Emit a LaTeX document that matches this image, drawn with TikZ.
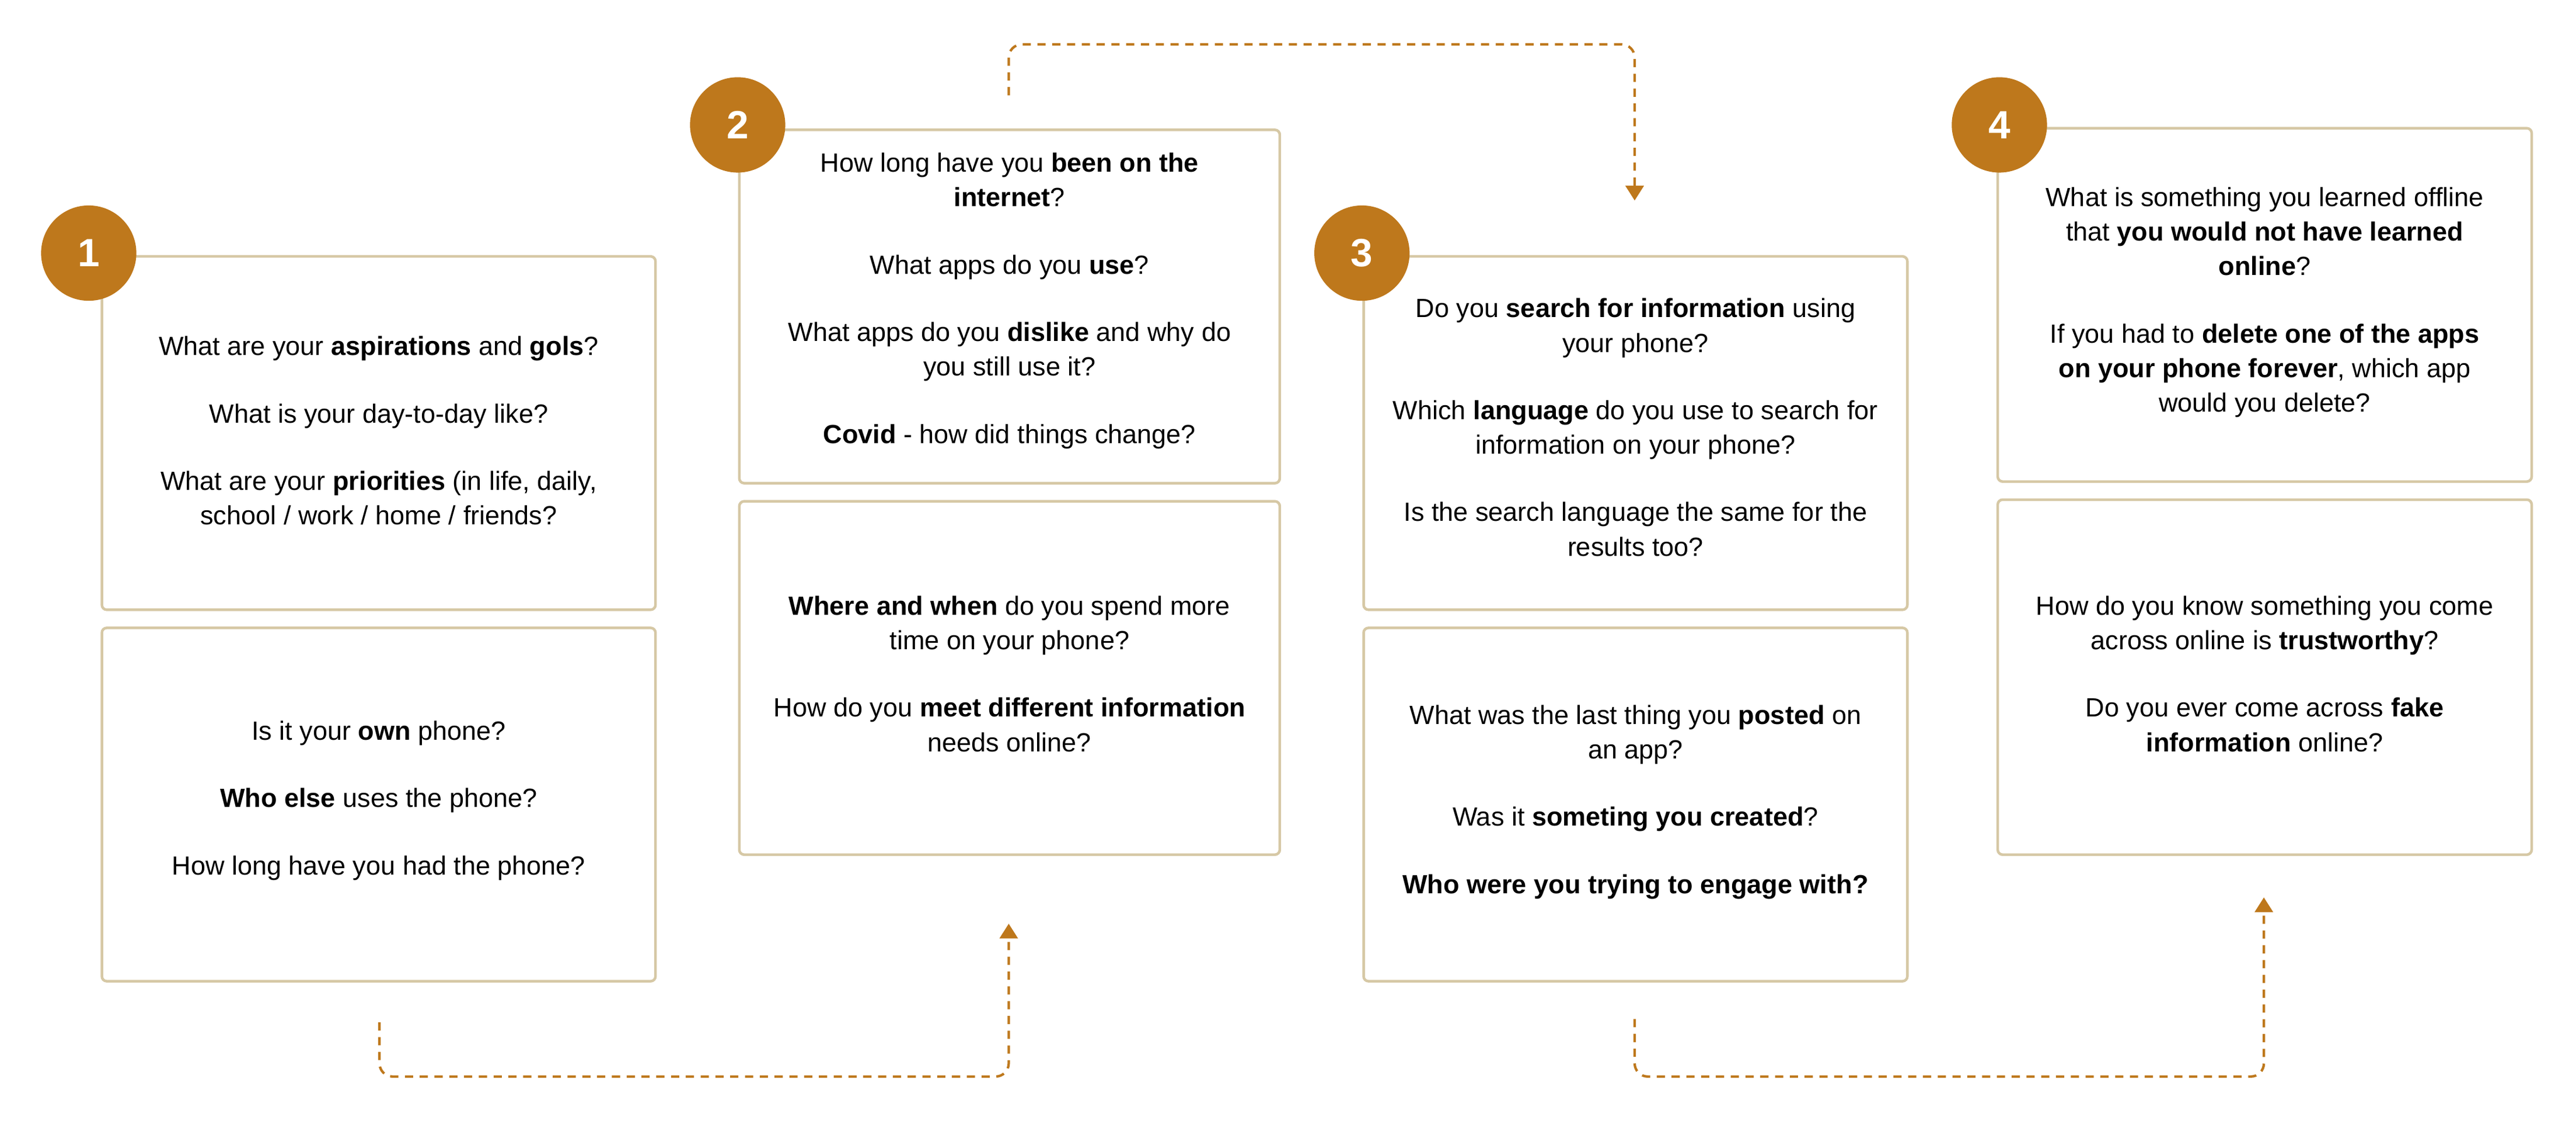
\documentclass[tikz,border=0pt]{standalone}
\usepackage{fontspec}
\setmainfont{Liberation Sans}
\usetikzlibrary{arrows.meta}
\definecolor{ochre}{RGB}{190,120,28}
\definecolor{tan}{RGB}{214,200,165}
\tikzset{
  qbox/.style={draw=tan,line width=1.6pt,rounded corners=3pt},
  qtext/.style={align=center,inner sep=0pt,font=\fontsize{16}{21}\selectfont},
  numdot/.style={circle,fill=ochre,minimum size=58pt,inner sep=0pt,text=white,font=\fontsize{24}{24}\selectfont\bfseries},
  flow/.style={draw=ochre,line width=1.5pt,dashed,dash pattern=on 5pt off 4pt,rounded corners=8pt,-{Triangle[length=9pt,width=11pt]}}
}
\begin{document}
\begin{tikzpicture}[x=1pt,y=-1pt]
  \useasboundingbox (0,0) rectangle (1568,682);
  % Boxes
  \draw[qbox] (62,156) rectangle (399,371);
  \draw[qbox] (62,382) rectangle (399,597);
  \draw[qbox] (450,79) rectangle (779,294);
  \draw[qbox] (450,305) rectangle (779,520);
  \draw[qbox] (830,156) rectangle (1161,371);
  \draw[qbox] (830,382) rectangle (1161,597);
  \draw[qbox] (1216,78) rectangle (1541,293);
  \draw[qbox] (1216,304) rectangle (1541,520);
  % Numbers
  \node[numdot] (n1) at (54,154) {1};
  \node[numdot] (n2) at (449,76) {2};
  \node[numdot] (n3) at (829,154) {3};
  \node[numdot] (n4) at (1217,76) {4};
  % Text Node
  \node[qtext] (q1a) at (230.5,262) {What are your \textbf{aspirations} and \textbf{gols}?\\[20pt]
    What is your day-to-day like?\\[20pt]
    What are your \textbf{priorities} (in life, daily,\\ school / work / home / friends?};
  \node[qtext] (q1b) at (230.5,487) {Is it your \textbf{own} phone?\\[20pt]
    \textbf{Who else} uses the phone?\\[20pt]
    How long have you had the phone?};
  \node[qtext] (q2a) at (614.5,183) {How long have you \textbf{been on the}\\ \textbf{internet}?\\[20pt]
    What apps do you \textbf{use}?\\[20pt]
    What apps do you \textbf{dislike} and why do\\ you still use it?\\[20pt]
    \textbf{Covid} - how did things change?};
  \node[qtext] (q2b) at (614.5,410) {\textbf{Where and when} do you spend more\\ time on your phone?\\[20pt]
    How do you \textbf{meet different information}\\ needs online?};
  \node[qtext] (q3a) at (995.5,260) {Do you \textbf{search for information} using\\ your phone?\\[20pt]
    Which \textbf{language} do you use to search for\\ information on your phone?\\[20pt]
    Is the search language the same for the\\ results too?};
  \node[qtext] (q3b) at (995.5,488) {What was the last thing you \textbf{posted} on\\ an app?\\[20pt]
    Was it \textbf{someting you created}?\\[20pt]
    \textbf{Who were you trying to engage with?}};
  \node[qtext] (q4a) at (1378.5,184) {What is something you learned offline\\ that \textbf{you would not have learned}\\ \textbf{online}?\\[20pt]
    If you had to \textbf{delete one of the apps}\\ \textbf{on your phone forever}, which app\\ would you delete?};
  \node[qtext] (q4b) at (1378.5,410) {How do you know something you come\\ across online is \textbf{trustworthy}?\\[20pt]
    Do you ever come across \textbf{fake}\\ \textbf{information} online?};
  % Connectors
  \coordinate (s1) at (231,622);
  \coordinate (e1) at (614,562);
  \coordinate (s2) at (614,58);
  \coordinate (e2) at (995,122);
  \coordinate (s3) at (995,620);
  \coordinate (e3) at (1378,546);
  \draw[flow] (s1) |- (614,655) -- (e1);
  \draw[flow] (s2) |- (995,27) -- (e2);
  \draw[flow] (s3) |- (1378,655) -- (e3);
\end{tikzpicture}
\end{document}
